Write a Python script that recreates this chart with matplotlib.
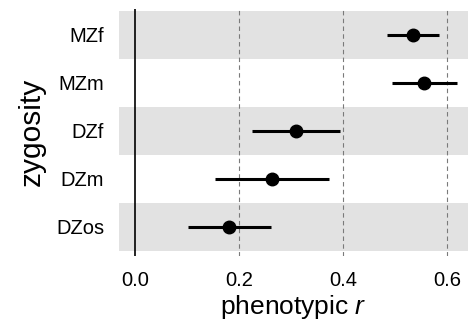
import numpy as np
import matplotlib
matplotlib.use('Agg')
import matplotlib.pyplot as plt

plt.rcParams['font.family'] = ['Liberation Sans', 'DejaVu Sans']
plt.rcParams['mathtext.fontset'] = 'custom'
plt.rcParams['mathtext.rm'] = 'Liberation Sans'
plt.rcParams['mathtext.it'] = 'Liberation Sans:italic'

# data (top to bottom)
groups = ['MZf', 'MZm', 'DZf', 'DZm', 'DZos']
r_est = [0.535, 0.556, 0.309, 0.263, 0.180]
r_lo = [0.485, 0.494, 0.224, 0.154, 0.102]
r_hi = [0.585, 0.620, 0.394, 0.373, 0.261]
shaded = ['MZf', 'DZf', 'DZos']
xticks = [0.0, 0.2, 0.4, 0.6]

fig = plt.figure(figsize=(4.68, 3.27), dpi=100)
ax = fig.add_axes([0.255, 0.218, 0.745, 0.7545])

ypos = np.arange(len(groups))[::-1]

# alternating grey bands
for g, y in zip(groups, ypos):
    if g in shaded:
        ax.axhspan(y - 0.5, y + 0.5, color='#e2e2e2', lw=0, zorder=0)

for x in xticks[1:]:
    ax.axvline(x, color='#7a7a7a', lw=0.8, ls=(0, (4, 3)), zorder=1)
ax.axvline(0, color='black', lw=1.2, zorder=2)

est = np.array(r_est)
lo = np.array(r_lo)
hi = np.array(r_hi)
ax.hlines(ypos, lo, hi, color='black', lw=2.2, zorder=3)
ax.plot(est, ypos, 'o', color='black', ms=9, zorder=4)

ax.set_xlim(-0.0302, 0.6404)
ax.set_ylim(-0.604, 4.535)
ax.set_xticks(xticks)
ax.set_xticklabels(['%.1f' % v for v in xticks])
ax.set_yticks(ypos)
ax.set_yticklabels(groups)
ax.tick_params(length=0, labelsize=14.5, colors='black')
ax.tick_params(axis='x', pad=11)
ax.tick_params(axis='y', pad=11)
for s in ax.spines.values():
    s.set_visible(False)

ax.set_xlabel('phenotypic $r$', fontsize=19, labelpad=2)
ax.set_ylabel('zygosity', fontsize=21.5, labelpad=7)

fig.savefig('out.png', dpi=100)
